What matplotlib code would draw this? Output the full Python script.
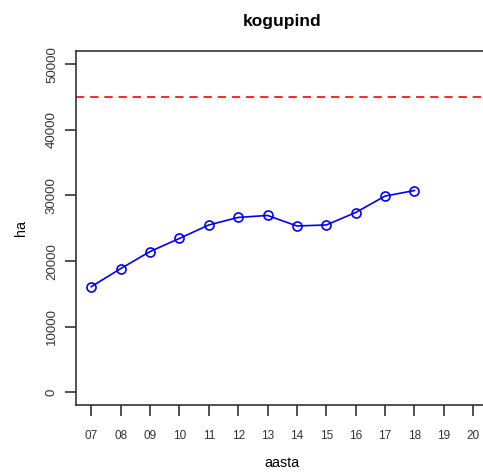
import matplotlib
matplotlib.use("Agg")
import matplotlib.pyplot as plt

plt.rcParams['font.family'] = ['Liberation Sans', 'DejaVu Sans']

# kogupind by year
years = [7, 8, 9, 10, 11, 12, 13, 14, 15, 16, 17, 18]
area = [16100, 18850, 21450, 23450, 25500, 26650, 26950, 25350, 25500, 27400, 29900, 30750]
target = 45000

xticks = list(range(7, 21))
xlabels = ["%02d" % y for y in xticks]
yticks = [0, 10000, 20000, 30000, 40000, 50000]

fig = plt.figure(figsize=(4.83, 4.72), dpi=100)
ax = fig.add_axes([0.1573, 0.1409, 0.854, 0.751])

ax.plot(years, area, color="blue", linewidth=1.2, marker="o", markersize=6.5,
        markerfacecolor="none", markeredgecolor="blue", markeredgewidth=1.2)
ax.axhline(target, color="red", linestyle=(0, (5, 3.5)), linewidth=1.2)

ax.set_xlim(6.48, 20.52)
ax.set_ylim(-2000, 52000)
ax.set_xticks(xticks)
ax.set_xticklabels(xlabels)
ax.set_yticks(yticks)
ax.set_yticklabels([str(v) for v in yticks], rotation=90, va="center")
ax.tick_params(direction="out", length=8, width=1.1,
               labelcolor="#333333", color="#222222")
ax.tick_params(axis="x", pad=10, labelsize=8.5)
ax.tick_params(axis="y", pad=5, labelsize=9.5)

for s in ax.spines.values():
    s.set_linewidth(1.2)
    s.set_color("#333333")

ax.set_title("kogupind", fontsize=12.5, fontweight="bold", pad=18)
ax.set_xlabel("aasta", fontsize=10.3, labelpad=10)
ax.set_ylabel("ha", fontsize=10.3, labelpad=13)

fig.savefig("out.png", dpi=100)
